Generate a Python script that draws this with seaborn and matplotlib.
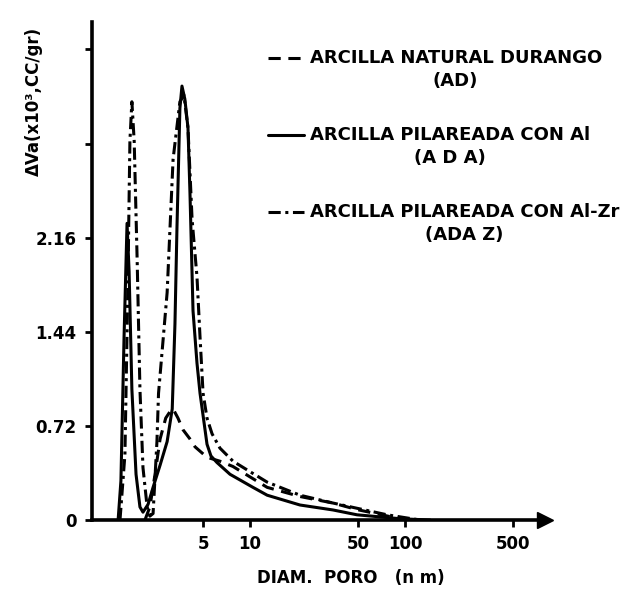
import numpy as np
import pandas as pd
import seaborn as sns
import matplotlib
matplotlib.use("Agg")
import matplotlib.pyplot as plt
from matplotlib.ticker import FixedLocator, NullLocator

# pore diameter (nm) vs. delta volume (x10^-3 cc/gr)
ad_x = [2.10, 2.26, 2.44, 2.63, 2.86, 3.05, 3.19, 3.43, 3.70, 4.10, 4.42, 5.28,
        6.40, 7.75, 10.0, 12.9, 21.0, 34.3, 49.0, 93.0, 125.0]
ad_y = [0.0, 0.10, 0.35, 0.62, 0.78, 0.83, 0.85, 0.78, 0.69, 0.62, 0.56, 0.48,
        0.45, 0.41, 0.33, 0.25, 0.18, 0.13, 0.08, 0.01, 0.0]

ada_x = [1.41, 1.47, 1.54, 1.61, 1.66, 1.73, 1.84, 1.95, 2.04, 2.20, 2.37, 2.63,
         2.92, 3.15, 3.28, 3.38, 3.53, 3.64, 3.80, 3.98, 4.10, 4.29, 4.55, 4.76,
         4.98, 5.28, 5.60, 6.12, 7.43, 10.45, 12.9, 21.0, 34.3, 49.0, 93.0, 145.0]
ada_y = [0.0, 0.30, 1.40, 2.27, 1.90, 1.00, 0.35, 0.10, 0.06, 0.12, 0.25, 0.42,
         0.60, 0.85, 1.50, 2.24, 3.15, 3.32, 3.22, 3.00, 2.50, 1.60, 1.20, 0.97,
         0.80, 0.58, 0.49, 0.44, 0.35, 0.25, 0.19, 0.115, 0.077, 0.04, 0.01, 0.0]

adaz_x = [1.45, 1.56, 1.63, 1.68, 1.73, 1.79, 1.87, 1.95, 2.04, 2.17, 2.26, 2.37,
          2.51, 2.57, 2.92, 3.19, 3.53, 3.75, 3.98, 4.23, 4.55, 4.76, 4.98, 5.28,
          5.69, 6.40, 7.77, 10.0, 12.9, 21.0, 34.3, 49.0, 76.6, 125.0]
adaz_y = [0.0, 0.50, 1.80, 2.90, 3.20, 2.90, 2.00, 1.00, 0.40, 0.10, 0.03, 0.05,
          0.60, 0.97, 1.74, 2.76, 3.20, 3.25, 3.00, 2.30, 1.86, 1.40, 0.97, 0.78,
          0.66, 0.55, 0.45, 0.37, 0.29, 0.19, 0.13, 0.09, 0.04, 0.0]

labels = ["ARCILLA NATURAL DURANGO\n(AD)",
          "ARCILLA PILAREADA CON Al\n(A D A)",
          "ARCILLA PILAREADA CON Al-Zr\n(ADA Z)"]

x_ticks = [5, 10, 50, 100, 500]
y_ticks = [0, 0.72, 1.44, 2.16, 2.88, 3.60]
y_ticklabels = ["0", "0.72", "1.44", "2.16", "", ""]

sns.set_style("ticks")
plt.rcParams["font.family"] = ["DejaVu Sans"]
plt.rcParams["font.weight"] = "bold"
plt.rcParams["text.color"] = "black"
plt.rcParams["axes.labelcolor"] = "black"
plt.rcParams["xtick.color"] = "black"
plt.rcParams["ytick.color"] = "black"

fig = plt.figure(figsize=(6.29, 5.95), dpi=100)
ax = fig.add_axes([0.1463, 0.126, 0.7202, 0.837])

lw = 2.2
sns.lineplot(x=ad_x, y=ad_y, ax=ax, color="black", lw=lw, estimator=None,
             linestyle=(0, (4, 2.5)), label=labels[0])
sns.lineplot(x=ada_x, y=ada_y, ax=ax, color="black", lw=lw, estimator=None,
             linestyle="-", label=labels[1])
sns.lineplot(x=adaz_x, y=adaz_y, ax=ax, color="black", lw=lw, estimator=None,
             linestyle=(0, (4, 1.5, 1, 1.5)), label=labels[2])

ax.set_xscale("log")
ax.set_xlim(0.957, 800)
ax.set_ylim(0, 3.81)
ax.xaxis.set_major_locator(FixedLocator(x_ticks))
ax.xaxis.set_minor_locator(NullLocator())
ax.set_xticklabels([str(v) for v in x_ticks])
ax.set_yticks(y_ticks)
ax.set_yticklabels(y_ticklabels)
ax.tick_params(axis="both", labelsize=12, width=2, length=5, pad=6,
               color="black", labelcolor="black")
for t in ax.get_xticklabels() + ax.get_yticklabels():
    t.set_fontweight("bold")

sns.despine(ax=ax)
for s in ["left", "bottom"]:
    ax.spines[s].set_linewidth(2.6)
    ax.spines[s].set_color("black")

# arrow heads on the axes
ax.plot(1, 0, ">k", ms=11, transform=ax.get_yaxis_transform(), clip_on=False)
ax.plot(0, 1, "^k", ms=11, transform=ax.get_xaxis_transform(), clip_on=False)

ax.set_xlabel("DIAM.  PORO   (n m)", fontsize=12, fontweight="bold", color="black")
ax.xaxis.set_label_coords(0.572, -0.098)
ax.set_ylabel("ΔVa(x10³,CC/gr)", fontsize=12, fontweight="bold", loc="top",
              color="black")
ax.yaxis.set_label_coords(-0.108, 0.99)

leg = ax.legend(loc="upper left", bbox_to_anchor=(268 / 629, 1 - 49 / 595),
                bbox_transform=fig.transFigure, frameon=False, fontsize=13,
                handlelength=2.0, handletextpad=0.3, labelspacing=2.0,
                borderpad=0, borderaxespad=0)
for t in leg.get_texts():
    t.set_multialignment("center")
    t.set_linespacing(1.35)
    t.set_fontweight("bold")
    t.set_color("black")
# put the legend line next to the first text line
for h in leg.legend_handles:
    h.set_ydata(np.asarray(h.get_ydata()) + 9)

fig.savefig("out.png", dpi=100, facecolor="white")
